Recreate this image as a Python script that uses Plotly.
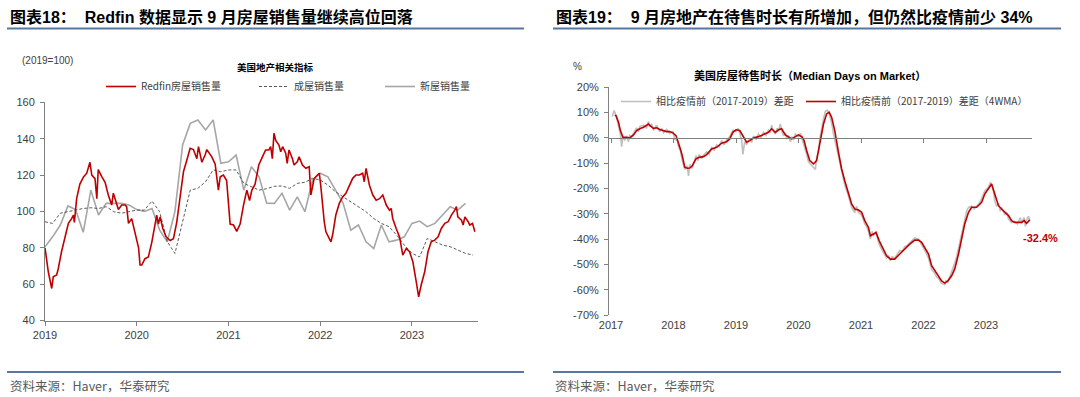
import plotly.graph_objects as go

W, H = 1080, 397


def fx(x):
    return x / W


def fy(y):
    return 1 - y / H


# ---------------- Left chart data (2019=100) ----------------
redfin_points = [
    (2019.00, 80), (2019.036, 66.8), (2019.073, 57.6), (2019.09, 64), (2019.127, 65),
    (2019.145, 68.6), (2019.18, 77.8), (2019.22, 87), (2019.255, 93.4), (2019.29, 96),
    (2019.31, 98), (2019.32, 94), (2019.335, 101), (2019.345, 107), (2019.38, 115),
    (2019.42, 119), (2019.455, 121), (2019.49, 127), (2019.51, 120), (2019.545, 118),
    (2019.565, 107), (2019.58, 123), (2019.62, 119), (2019.655, 116), (2019.69, 109),
    (2019.727, 103.5), (2019.745, 110), (2019.765, 107), (2019.80, 101), (2019.836, 103.5),
    (2019.873, 103.5), (2019.89, 102.6), (2019.91, 93.4), (2019.945, 96), (2019.98, 89),
    (2020.02, 80), (2020.036, 70.5), (2020.055, 70.5), (2020.09, 74), (2020.127, 75),
    (2020.164, 83), (2020.20, 94), (2020.218, 98), (2020.236, 93), (2020.255, 97),
    (2020.284, 90.6), (2020.32, 86), (2020.364, 84), (2020.40, 85), (2020.436, 94),
    (2020.473, 109), (2020.51, 122), (2020.545, 128), (2020.582, 134.7), (2020.618, 134),
    (2020.655, 129), (2020.673, 135.6), (2020.71, 127), (2020.745, 131), (2020.764, 134),
    (2020.818, 130), (2020.855, 126), (2020.89, 111.7), (2020.91, 119), (2020.945, 120),
    (2020.98, 117), (2021.018, 93), (2021.055, 92.5), (2021.09, 89), (2021.127, 93),
    (2021.164, 103.5), (2021.20, 111.7), (2021.23, 106), (2021.255, 111.7), (2021.29, 115),
    (2021.33, 125.5), (2021.37, 130), (2021.405, 133.8), (2021.44, 133.8), (2021.46, 135.6),
    (2021.478, 129), (2021.496, 143), (2021.515, 139), (2021.55, 136.5), (2021.57, 132.8),
    (2021.59, 135.6), (2021.624, 132), (2021.64, 126.4), (2021.66, 133.8), (2021.697, 129),
    (2021.715, 125.5), (2021.75, 127.3), (2021.77, 130), (2021.806, 125.5), (2021.843, 123.7),
    (2021.88, 124.6), (2021.898, 109), (2021.934, 118), (2021.97, 120), (2021.99, 121),
    (2022.007, 113.6), (2022.026, 103.5), (2022.044, 94.3), (2022.062, 88.8), (2022.10, 85.1),
    (2022.117, 83.3), (2022.135, 87), (2022.17, 98), (2022.208, 104.4), (2022.245, 108),
    (2022.28, 110), (2022.318, 114.5), (2022.354, 118.2), (2022.39, 120), (2022.427, 120),
    (2022.463, 121), (2022.48, 116.3), (2022.50, 123.7), (2022.536, 114.5), (2022.573, 109),
    (2022.61, 106.2), (2022.646, 107), (2022.682, 109), (2022.72, 103.5), (2022.755, 100.7),
    (2022.774, 101.6), (2022.79, 96.1), (2022.828, 90.6), (2022.865, 86), (2022.90, 76),
    (2022.938, 79.6), (2022.974, 77.8), (2023.01, 72.3), (2023.047, 61.3), (2023.073, 53),
    (2023.10, 59.4), (2023.139, 66.8), (2023.175, 77.8), (2023.21, 83.3), (2023.248, 84.2),
    (2023.285, 86), (2023.32, 90.6), (2023.358, 93.4), (2023.394, 94.3), (2023.43, 98),
    (2023.467, 100.7), (2023.485, 102.6), (2023.50, 97), (2023.54, 95.2), (2023.558, 92.5),
    (2023.577, 97), (2023.613, 94.3), (2023.63, 92.5), (2023.66, 93.4), (2023.686, 88.8),
]
redfin_x = [p[0] for p in redfin_points]
redfin_y = [p[1] for p in redfin_points]

# monthly series, starting Jan 2019
existing_sales = [
    94.3, 93.4, 99, 100, 100.7, 101.6, 102, 101.6, 102.6, 99.8,
    99, 99.8, 100.7, 100.7, 105.7, 99.8, 83.3, 76.9, 95.2, 111.7,
    112.7, 116.3, 122.8, 121.8, 122.8, 122.8, 115.4, 113.6, 111.7,
    112.5, 113.8, 114, 112.7, 115.4, 116, 118.2, 117.3, 114.5, 110.8,
    108, 105.3, 102.6, 99.8, 96.1, 93.4, 91.6, 87, 81.5, 76.9,
    75, 85.1, 83.3, 81.5, 80.6, 78.7, 76.9, 76,
]
new_sales = [
    80.6, 86, 92.5, 103, 101, 88.5, 111.7, 98, 104.5, 104.5,
    104.4, 103.5, 101, 100, 101.6, 89.7, 83.3, 100, 136.5, 148.4,
    150.3, 144.8, 150.3, 126.4, 127.3, 131, 111.7, 124.6, 119,
    104.5, 104.4, 110, 100.7, 108, 99.8, 117.3, 121, 119, 111.7,
    104.5, 89.7, 92.5, 83.3, 79.6, 92.5, 83.3, 84.2, 86, 93.4,
    94.7, 91.6, 93.4, 98, 102.6, 100.7, 104.4,
]
existing_x = [2019 + i / 12 for i in range(len(existing_sales))]
new_x = [2019 + i / 12 for i in range(len(new_sales))]

left_years = [2019, 2020, 2021, 2022, 2023]
left_yticks = [40, 60, 80, 100, 120, 140, 160]

# ---------------- Right chart data (% vs 2017-2019) ----------------
dom_4wma_points = [
    (2017.06, 9.0), (2017.08, 8.8), (2017.12, 6.2), (2017.15, 2.9), (2017.19, 0.3),
    (2017.25, 0.0), (2017.30, 0.0), (2017.36, 1.2), (2017.41, 2.9), (2017.46, 3.6),
    (2017.52, 4.2), (2017.60, 5.5), (2017.62, 4.9), (2017.68, 3.8), (2017.73, 4.0),
    (2017.78, 3.3), (2017.84, 2.9), (2017.89, 2.5), (2017.94, 2.5), (2017.99, 2.0),
    (2018.04, 0.9), (2018.08, -1.7), (2018.11, -4.4), (2018.14, -7.0), (2018.18, -11.6),
    (2018.22, -12.0), (2018.26, -11.9), (2018.30, -11.0), (2018.36, -8.3), (2018.41, -7.7),
    (2018.48, -7.4), (2018.53, -6.6), (2018.61, -4.4), (2018.69, -3.7), (2018.77, -2.1),
    (2018.85, -1.5), (2018.90, -0.4), (2018.95, 2.2), (2019.00, 3.2), (2019.06, 2.9),
    (2019.11, 0.9), (2019.17, -1.7), (2019.22, -1.1), (2019.28, 0.0), (2019.36, 0.5),
    (2019.44, 1.3), (2019.52, 2.2), (2019.57, 3.6), (2019.63, 2.2), (2019.68, 3.2),
    (2019.73, 3.6), (2019.79, 1.2), (2019.84, 0.3), (2019.89, -0.4), (2019.95, 0.5),
    (2020.00, 1.2), (2020.06, 0.3), (2020.09, -1.1), (2020.13, -5.0), (2020.18, -9.0),
    (2020.24, -10.3), (2020.29, -9.0), (2020.34, -2.4), (2020.40, 5.5), (2020.45, 9.5),
    (2020.49, 10.2), (2020.53, 8.2), (2020.58, 2.9), (2020.64, -5.7), (2020.69, -12.3),
    (2020.74, -16.9), (2020.80, -21.5), (2020.85, -26.1), (2020.90, -28.1), (2020.96, -28.5),
    (2021.01, -29.4), (2021.06, -32.7), (2021.12, -35.4), (2021.15, -38.7), (2021.20, -38.0),
    (2021.24, -37.3), (2021.29, -40.6), (2021.35, -43.9), (2021.41, -46.6), (2021.47, -47.9),
    (2021.54, -47.9), (2021.62, -45.9), (2021.70, -43.9), (2021.78, -42.0), (2021.86, -40.4),
    (2021.92, -40.4), (2021.97, -41.3), (2022.02, -43.3), (2022.08, -45.9), (2022.13, -50.5),
    (2022.18, -52.5), (2022.24, -54.5), (2022.29, -56.5), (2022.34, -57.4), (2022.39, -56.5),
    (2022.45, -54.5), (2022.50, -51.8), (2022.56, -45.9), (2022.61, -40.6), (2022.66, -34.0),
    (2022.72, -29.4), (2022.77, -27.4), (2022.85, -27.4), (2022.93, -25.5), (2022.98, -22.2),
    (2023.04, -20.2), (2023.09, -18.2), (2023.14, -22.2), (2023.20, -26.8), (2023.25, -28.1),
    (2023.30, -29.4), (2023.36, -30.7), (2023.41, -32.7), (2023.46, -33.4), (2023.52, -33.4),
    (2023.57, -33.4), (2023.61, -32.7), (2023.65, -33.8), (2023.70, -32.4),
]
dom_raw_points = [
    (2017.02, 8.5), (2017.05, 10.8), (2017.08, 9.0), (2017.12, 5.0), (2017.15, 1.5),
    (2017.17, -3.5), (2017.19, 0.5), (2017.22, -1.0), (2017.25, 0.8), (2017.28, -1.5),
    (2017.30, 1.0), (2017.33, 0.5), (2017.36, 2.0), (2017.41, 4.0), (2017.44, 2.5),
    (2017.46, 4.5), (2017.52, 5.0), (2017.57, 4.0), (2017.60, 6.5), (2017.62, 4.5),
    (2017.65, 5.5), (2017.68, 3.0), (2017.73, 5.0), (2017.78, 2.5), (2017.81, 3.8),
    (2017.84, 2.0), (2017.89, 3.3), (2017.94, 1.8), (2017.99, 2.5), (2018.02, -0.5),
    (2018.06, -1.0), (2018.08, -3.5), (2018.11, -5.0), (2018.14, -9.0), (2018.18, -12.5),
    (2018.22, -11.0), (2018.24, -15.0), (2018.26, -10.5), (2018.30, -12.0), (2018.33, -9.0),
    (2018.36, -7.0), (2018.39, -9.0), (2018.41, -6.5), (2018.45, -8.2), (2018.48, -6.8),
    (2018.53, -5.5), (2018.57, -6.5), (2018.61, -3.8), (2018.65, -4.8), (2018.69, -2.8),
    (2018.73, -3.5), (2018.77, -1.0), (2018.81, -2.8), (2018.85, -0.8), (2018.90, 0.5),
    (2018.95, 3.0), (2019.00, 2.5), (2019.03, 3.8), (2019.06, 2.0), (2019.09, -1.0),
    (2019.11, -6.5), (2019.14, -1.5), (2019.17, -2.5), (2019.22, -0.3), (2019.25, -1.8),
    (2019.28, 0.8), (2019.32, -0.5), (2019.36, 1.5), (2019.40, 0.2), (2019.44, 2.2),
    (2019.48, 1.0), (2019.52, 3.0), (2019.55, 2.0), (2019.57, 5.0), (2019.60, 2.5),
    (2019.63, 1.5), (2019.66, 3.8), (2019.68, 2.5), (2019.71, 5.5), (2019.73, 2.8),
    (2019.76, 0.8), (2019.79, 2.0), (2019.81, -0.5), (2019.84, 1.0), (2019.87, -1.5),
    (2019.89, 0.5), (2019.92, -0.8), (2019.95, 1.5), (2020.00, 0.5), (2020.03, 1.8),
    (2020.06, -0.5), (2020.09, -2.5), (2020.13, -6.5), (2020.16, -9.5), (2020.20, -10.5),
    (2020.24, -11.5), (2020.27, -12.5), (2020.29, -8.0), (2020.32, -5.0), (2020.34, -0.5),
    (2020.37, 4.0), (2020.40, 7.5), (2020.43, 10.5), (2020.46, 11.0), (2020.49, 9.5),
    (2020.53, 6.0), (2020.56, 1.5), (2020.60, -3.0), (2020.64, -8.5), (2020.69, -14.0),
    (2020.74, -18.5), (2020.80, -23.0), (2020.85, -27.5), (2020.90, -29.5), (2020.93, -27.0),
    (2020.96, -29.5), (2021.01, -30.5), (2021.06, -34.0), (2021.09, -35.0), (2021.12, -37.0),
    (2021.15, -40.0), (2021.18, -37.0), (2021.20, -38.5), (2021.24, -37.5), (2021.27, -41.0),
    (2021.29, -42.0), (2021.35, -45.0), (2021.41, -47.5), (2021.44, -46.5), (2021.47, -48.5),
    (2021.50, -47.0), (2021.54, -47.5), (2021.58, -46.0), (2021.62, -44.5), (2021.66, -44.8),
    (2021.70, -43.0), (2021.74, -42.5), (2021.78, -41.5), (2021.82, -40.8), (2021.86, -39.5),
    (2021.92, -40.0), (2021.97, -42.0), (2022.02, -44.5), (2022.08, -47.5), (2022.10, -49.5),
    (2022.13, -52.0), (2022.18, -53.5), (2022.21, -55.0), (2022.24, -55.5), (2022.29, -57.5),
    (2022.34, -58.0), (2022.36, -56.5), (2022.39, -57.0), (2022.42, -55.0), (2022.45, -53.5),
    (2022.50, -49.5), (2022.53, -47.0), (2022.56, -43.5), (2022.61, -38.0), (2022.66, -31.5),
    (2022.69, -29.0), (2022.72, -27.5), (2022.77, -27.0), (2022.81, -28.0), (2022.85, -26.8),
    (2022.89, -26.0), (2022.93, -24.0), (2022.98, -21.0), (2023.04, -19.5), (2023.07, -17.5),
    (2023.09, -18.5), (2023.12, -21.0), (2023.14, -25.0), (2023.17, -27.0), (2023.20, -26.0),
    (2023.23, -29.0), (2023.25, -27.5), (2023.30, -30.5), (2023.33, -29.5), (2023.36, -32.0),
    (2023.41, -33.5), (2023.46, -33.0), (2023.50, -34.0), (2023.52, -33.0), (2023.55, -31.5),
    (2023.57, -33.8), (2023.61, -31.5), (2023.63, -35.0), (2023.65, -32.5), (2023.68, -31.0),
    (2023.70, -32.8),
]
dom_x = [p[0] for p in dom_4wma_points]
dom_y = [p[1] for p in dom_4wma_points]
raw_x = [p[0] for p in dom_raw_points]
raw_y = [p[1] for p in dom_raw_points]

right_years = [2017, 2018, 2019, 2020, 2021, 2022, 2023]
right_yticks = [-70, -60, -50, -40, -30, -20, -10, 0, 10, 20]
last_label = "-32.4%"

# ---------------- Styles ----------------
FONT = "Liberation Sans, Arial, Noto Sans CJK SC, sans-serif"
CJK = "Noto Sans CJK SC, Liberation Sans, sans-serif"
RED = "#C00000"
GRAY = "#A6A6A6"
DARK = "#595959"
AXIS = "#808080"
TXT = "#404040"
BLUE = "#5877A0"

fig = go.Figure()

# left chart traces
fig.add_trace(go.Scatter(x=new_x, y=new_sales, mode="lines", name="新屋销售量",
                         line=dict(color=GRAY, width=1.6), xaxis="x", yaxis="y",
                         legend="legend3", hoverinfo="skip"))
fig.add_trace(go.Scatter(x=existing_x, y=existing_sales, mode="lines", name="成屋销售量",
                         line=dict(color=DARK, width=1, dash="3px,2px"), xaxis="x", yaxis="y",
                         legend="legend2", hoverinfo="skip"))
fig.add_trace(go.Scatter(x=redfin_x, y=redfin_y, mode="lines", name="Redfin房屋销售量",
                         line=dict(color=RED, width=1.6), xaxis="x", yaxis="y",
                         legend="legend", hoverinfo="skip"))

# right chart traces
fig.add_trace(go.Scatter(x=raw_x, y=raw_y, mode="lines", name="相比疫情前（2017-2019）差距",
                         line=dict(color="#BFBFBF", width=1.6), xaxis="x2", yaxis="y2",
                         legend="legend4", hoverinfo="skip"))
fig.add_trace(go.Scatter(x=dom_x, y=dom_y, mode="lines", name="相比疫情前（2017-2019）差距（4WMA）",
                         line=dict(color=RED, width=1.6), xaxis="x2", yaxis="y2",
                         legend="legend5", hoverinfo="skip"))
# helper trace so the zero-line axis with ticks is drawn
fig.add_trace(go.Scatter(x=[dom_x[0]], y=[0], mode="lines", showlegend=False,
                         xaxis="x3", yaxis="y2", hoverinfo="skip", line=dict(width=0)))

# geometry
L_dom_x = [fx(45), fx(478)]
L_dom_y = [fy(320.5), fy(102.3)]
R_dom_x = [fx(609), fx(1032)]
R_dom_y = [fy(315), fy(87.3)]
r_lo, r_hi = -70, 20
zero_pos = R_dom_y[0] + (0 - r_lo) / (r_hi - r_lo) * (R_dom_y[1] - R_dom_y[0])

tickfont = dict(family=FONT, size=11, color=TXT)

fig.update_layout(
    width=W, height=H,
    margin=dict(l=0, r=0, t=0, b=0, autoexpand=False),
    paper_bgcolor="white", plot_bgcolor="white",
    font=dict(family=FONT, color=TXT),
    xaxis=dict(domain=L_dom_x, range=[2019, 2023.72], anchor="y", automargin=False,
               tickvals=left_years, ticktext=[str(v) for v in left_years],
               ticks="outside", ticklen=4, tickcolor=AXIS, showline=True, linecolor=AXIS,
               linewidth=1, showgrid=False, zeroline=False, tickfont=tickfont),
    yaxis=dict(domain=L_dom_y, range=[40, 160], anchor="x", automargin=False,
               tickvals=left_yticks, ticks="outside", ticklen=4, tickcolor=AXIS,
               showline=True, linecolor=AXIS, linewidth=1, showgrid=False,
               zeroline=False, tickfont=tickfont, ticklabelstandoff=3),
    xaxis2=dict(domain=R_dom_x, range=[2016.968, 2023.736], anchor="y2", automargin=False,
                tickvals=right_years, ticktext=[str(v) for v in right_years],
                ticks="", showline=False, showgrid=False, zeroline=False,
                tickfont=tickfont, ticklabelstandoff=2),
    xaxis3=dict(overlaying="x2", anchor="free", position=zero_pos, automargin=False,
                range=[2016.968, 2023.736], tickvals=right_years,
                ticks="outside", ticklen=4, tickcolor=AXIS, showticklabels=False,
                showline=True, linecolor=AXIS, linewidth=1, showgrid=False, zeroline=False),
    yaxis2=dict(domain=R_dom_y, range=[r_lo, r_hi], anchor="x2", automargin=False,
                tickvals=right_yticks, ticktext=[f"{v}%" for v in right_yticks],
                ticks="outside", ticklen=4, tickcolor=AXIS, showline=True,
                linecolor=AXIS, linewidth=1, showgrid=False, zeroline=False,
                tickfont=tickfont, ticklabelstandoff=3),
    showlegend=True,
)

legend_common = dict(orientation="h", xanchor="left", yanchor="middle",
                     bgcolor="rgba(0,0,0,0)", borderwidth=0, itemwidth=30,
                     font=dict(family=CJK, size=10, color=TXT), itemclick=False)
fig.update_layout(
    legend=dict(x=fx(101), y=fy(86.5), **legend_common),
    legend2=dict(x=fx(254), y=fy(86.5), **legend_common),
    legend3=dict(x=fx(380), y=fy(86.5), **legend_common),
    legend4=dict(x=fx(616), y=fy(101.5), **legend_common),
    legend5=dict(x=fx(801), y=fy(101.5), **legend_common),
)

ann = []
ann.append(dict(text="<b>图表18：  Redfin 数据显示 9 月房屋销售量继续高位回落</b>",
                x=fx(8), y=fy(17), xref="paper", yref="paper", xanchor="left",
                yanchor="middle", showarrow=False,
                font=dict(family="Liberation Sans, Noto Sans CJK SC", size=16, color="#000000")))
ann.append(dict(text="<b>图表19：  9 月房地产在待售时长有所增加，但仍然比疫情前少 34%</b>",
                x=fx(554), y=fy(17), xref="paper", yref="paper", xanchor="left",
                yanchor="middle", showarrow=False,
                font=dict(family="Liberation Sans, Noto Sans CJK SC", size=16, color="#000000")))
ann.append(dict(text="(2019=100)", x=fx(20), y=fy(60), xref="paper", yref="paper",
                xanchor="left", yanchor="middle", showarrow=False,
                font=dict(family=FONT, size=10, color=TXT)))
ann.append(dict(text="<b>美国地产相关指标</b>", x=fx(275), y=fy(67), xref="paper", yref="paper",
                xanchor="center", yanchor="middle", showarrow=False,
                font=dict(family=CJK, size=9.5, color="#000000")))
ann.append(dict(text="%", x=fx(577), y=fy(66), xref="paper", yref="paper",
                xanchor="center", yanchor="middle", showarrow=False,
                font=dict(family=FONT, size=10, color=TXT)))
ann.append(dict(text="<b>美国房屋待售时长（Median Days on Market）</b>", x=fx(810), y=fy(75),
                xref="paper", yref="paper", xanchor="center", yanchor="middle",
                showarrow=False, font=dict(family="Liberation Sans, Noto Sans CJK SC", size=11, color="#000000")))
ann.append(dict(text=f"<b>{last_label}</b>", x=2023.56, y=-39.5, xref="x2", yref="y2",
                xanchor="left", yanchor="middle", showarrow=False,
                font=dict(family=FONT, size=11, color=RED)))
for xs in (8, 553):
    ann.append(dict(text="资料来源：Haver，华泰研究", x=fx(xs), y=fy(385), xref="paper",
                    yref="paper", xanchor="left", yanchor="middle", showarrow=False,
                    font=dict(family=CJK, size=12.5, color="#595959")))
fig.update_layout(annotations=ann)

shapes = []
for (x0, x1) in ((7, 524), (553, 1061)):
    for yy in (28.5, 372):
        shapes.append(dict(type="line", xref="paper", yref="paper",
                           x0=fx(x0), x1=fx(x1), y0=fy(yy), y1=fy(yy),
                           line=dict(color=BLUE, width=2)))
fig.update_layout(shapes=shapes)

fig.write_html(
    "out.html",
    config={"displayModeBar": False},
    post_script="document.body.style.margin='0';document.body.style.overflow='hidden';",
)
